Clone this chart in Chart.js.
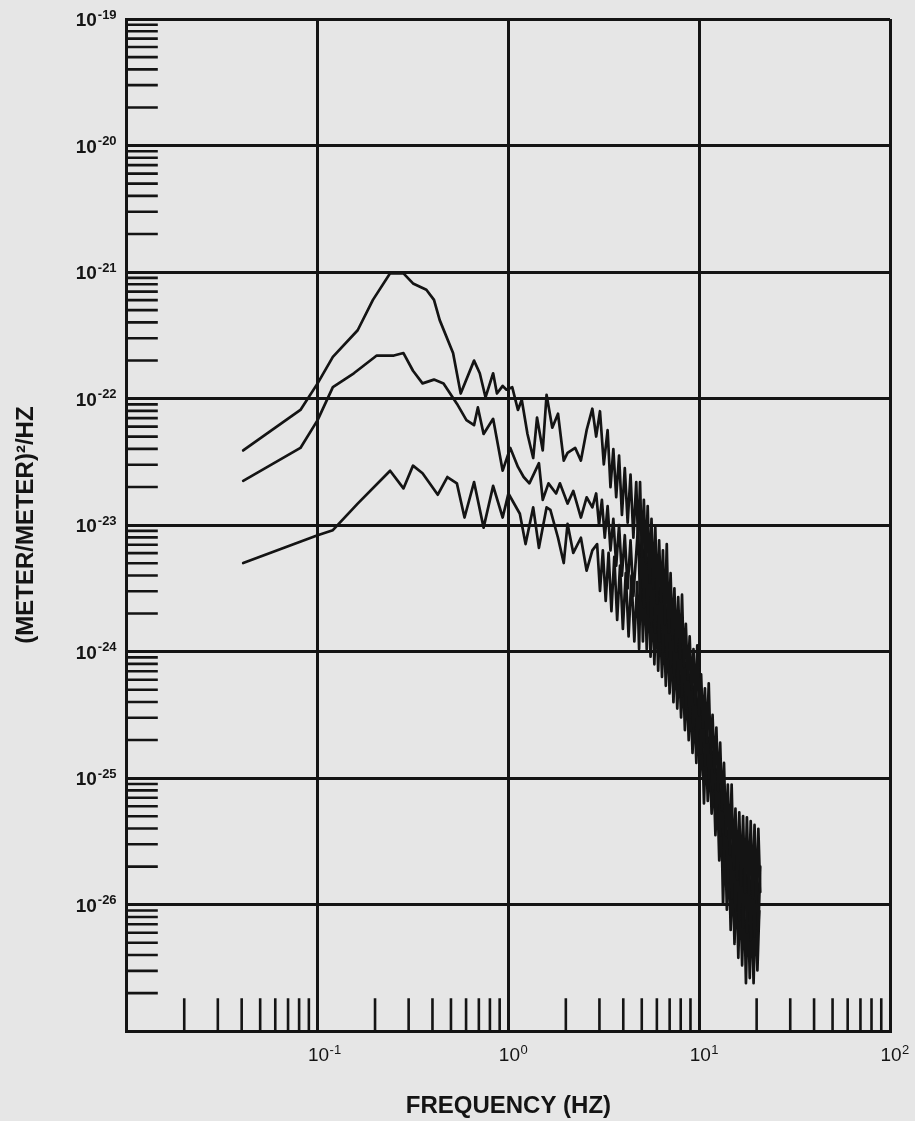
<!DOCTYPE html>
<html>
<head>
<meta charset="utf-8">
<title>Strain noise spectrum</title>
<script src="https://cdn.jsdelivr.net/npm/chart.js@4.4.0/dist/chart.umd.min.js"></script>
<style>
  html, body { margin: 0; padding: 0; background: #e6e6e6; }
  #wrap { width: 915px; height: 1121px; }
</style>
</head>
<body>
<div id="wrap"><canvas id="chart"></canvas></div>
<script>
// values, stored as log10 (decades) of frequency in Hz
// and of strain PSD in (m/m)^2/Hz
const logFreqA = [-1.39,-1.09,-1.00,-0.92,-0.79,-0.71,-0.62,-0.55,-0.50,-0.43,-0.39,-0.36,-0.29,-0.25,-0.18,-0.15,-0.12,-0.08,-0.06,-0.03,-0.01,0.02,0.05,0.07,0.10,0.13,0.15,0.18,0.20,0.23,0.26,0.29,0.31,0.35,0.38,0.41,0.44,
  0.46,0.48,0.50,0.52,0.535,0.55,0.565,0.58,0.595,0.61,0.625,0.64,0.655,0.67,0.68,
  0.69,0.70,0.71,0.72,0.73,0.74,0.75,0.76,0.77,0.78,0.79,0.80,0.81,0.82,0.83,0.84,0.85,0.86,0.87,0.88,0.89,0.90,0.91,0.92,0.93,0.94,0.95,0.96,0.97,0.98,0.99,
  1.00,1.01,1.02,1.03,1.04,1.05,1.06,1.07,1.08,1.09,1.10,1.11,1.12,1.13,1.14,1.15,1.16,1.17,1.18,1.19,1.20,1.21,1.22,1.23,1.24,1.25,1.26,1.27,1.28,1.29,1.30,1.31,1.32];
const logPsdA = [-22.41,-22.09,-21.88,-21.67,-21.46,-21.22,-21.01,-21.01,-21.09,-21.14,-21.22,-21.38,-21.64,-21.96,-21.70,-21.80,-21.99,-21.80,-21.96,-21.90,-21.93,-21.91,-22.09,-22.01,-22.28,-22.47,-22.15,-22.41,-21.97,-22.23,-22.12,-22.49,-22.43,-22.39,-22.49,-22.25,-22.08,
  -22.30,-22.10,-22.52,-22.25,-22.70,-22.40,-22.78,-22.45,-22.92,-22.55,-22.98,-22.60,-23.10,-22.66,-23.15,
  -22.66,-23.25,-22.80,-23.30,-22.85,-23.45,-22.95,-23.50,-23.02,-23.62,-23.12,-23.60,-23.20,-23.78,-23.15,-23.85,-23.38,-23.90,-23.50,-24.00,-23.57,-24.05,-23.55,-24.12,-23.78,-24.22,-23.88,-24.30,-23.98,-24.42,-23.95,
  -24.50,-24.18,-24.60,-24.29,-24.72,-24.25,-24.80,-24.50,-24.95,-24.60,-25.10,-24.72,-25.25,-24.88,-25.45,-25.05,-25.60,-25.05,-25.72,-25.24,-25.80,-25.27,-25.85,-25.30,-25.90,-25.31,-25.92,-25.34,-25.95,-25.37,-25.98,-25.40,-25.90];

const logFreqB = [-1.39,-1.09,-1.00,-0.92,-0.81,-0.69,-0.60,-0.55,-0.50,-0.45,-0.39,-0.34,-0.27,-0.22,-0.18,-0.16,-0.13,-0.08,-0.03,0.01,0.05,0.08,0.11,0.16,0.18,0.21,0.25,0.27,0.31,0.34,0.38,0.41,0.44,
  0.46,0.475,0.49,0.505,0.52,0.535,0.55,0.565,0.58,0.595,0.61,0.625,0.64,0.655,0.68,
  0.69,0.70,0.71,0.72,0.73,0.74,0.75,0.76,0.77,0.78,0.79,0.80,0.81,0.82,0.83,0.84,0.85,0.86,0.87,0.88,0.89,0.90,0.91,0.92,0.93,0.94,0.95,0.96,0.97,0.98,0.99,
  1.00,1.01,1.02,1.03,1.04,1.05,1.06,1.07,1.08,1.09,1.10,1.11,1.12,1.13,1.14,1.15,1.16,1.17,1.18,1.19,1.20,1.21,1.22,1.23,1.24,1.25,1.26,1.27,1.28,1.29,1.30,1.31,1.32];
const logPsdB = [-22.65,-22.39,-22.17,-21.91,-21.80,-21.66,-21.66,-21.64,-21.78,-21.88,-21.85,-21.88,-22.04,-22.17,-22.21,-22.07,-22.28,-22.16,-22.57,-22.39,-22.54,-22.62,-22.67,-22.51,-22.80,-22.67,-22.75,-22.67,-22.83,-22.73,-22.94,-22.78,-22.86,
  -22.75,-23.00,-22.80,-23.10,-22.85,-23.20,-22.95,-23.32,-23.00,-23.40,-23.08,-23.50,-23.12,-23.56,-23.00,
  -23.60,-22.95,-23.65,-23.05,-23.70,-23.10,-23.80,-23.20,-23.85,-23.28,-23.92,-23.35,-24.00,-23.45,-24.05,-23.52,-24.12,-23.60,-24.20,-23.70,-24.25,-23.78,-24.35,-23.88,-24.45,-23.98,-24.52,-24.08,-24.62,-24.18,-24.70,
  -24.28,-24.80,-24.38,-24.90,-24.48,-25.00,-24.60,-25.10,-24.70,-25.28,-24.85,-25.45,-25.00,-25.65,-25.18,-25.82,-25.30,-25.95,-25.40,-26.05,-25.45,-26.12,-25.52,-26.18,-25.55,-26.22,-25.60,-26.28,-25.62,-26.25,-25.65,-26.20,-25.70];

const logFreqC = [-1.39,-1.00,-0.92,-0.79,-0.62,-0.55,-0.50,-0.45,-0.37,-0.32,-0.27,-0.23,-0.18,-0.13,-0.08,-0.03,0.00,0.06,0.09,0.13,0.16,0.20,0.22,0.26,0.29,0.31,0.34,0.38,0.41,0.44,
  0.465,0.48,0.495,0.51,0.525,0.54,0.555,0.57,0.585,0.60,0.615,0.63,0.645,0.66,0.675,0.685,
  0.695,0.705,0.715,0.725,0.735,0.745,0.755,0.765,0.775,0.785,0.795,0.805,0.815,0.825,0.835,0.845,0.855,0.865,0.875,0.885,0.895,0.905,0.915,0.925,0.935,0.945,0.955,0.965,0.975,0.985,0.995,
  1.005,1.015,1.025,1.035,1.045,1.055,1.065,1.075,1.085,1.095,1.105,1.115,1.125,1.135,1.145,1.155,1.165,1.175,1.185,1.195,1.205,1.215,1.225,1.235,1.245,1.255,1.265,1.275,1.285,1.295,1.305,1.315];
const logPsdC = [-23.30,-23.08,-23.04,-22.83,-22.57,-22.71,-22.53,-22.59,-22.76,-22.62,-22.67,-22.94,-22.66,-23.02,-22.69,-22.94,-22.75,-22.91,-23.15,-22.86,-23.18,-22.86,-22.88,-23.10,-23.30,-22.99,-23.22,-23.10,-23.36,-23.20,
  -23.15,-23.52,-23.20,-23.60,-23.22,-23.68,-23.25,-23.75,-23.32,-23.82,-23.38,-23.88,-23.40,-23.92,-23.45,-23.98,
  -23.30,-23.92,-23.40,-23.98,-23.45,-24.04,-23.55,-24.10,-23.62,-24.15,-23.70,-24.20,-23.78,-24.27,-23.85,-24.33,-23.92,-24.40,-24.00,-24.45,-24.08,-24.52,-24.15,-24.62,-24.25,-24.70,-24.35,-24.80,-24.45,-24.88,-24.52,
  -24.98,-24.62,-25.20,-24.72,-25.18,-24.82,-25.28,-24.95,-25.45,-25.10,-25.65,-25.25,-26.00,-25.42,-26.04,-25.58,-26.20,-25.70,-26.31,-25.78,-26.42,-25.85,-26.48,-25.90,-26.62,-25.95,-26.58,-25.98,-26.62,-26.00,-26.52,-26.05];

// axes: decades carrying grid lines, decades carrying labels, minor marks
const xDecadeExp = [-2, -1, 0, 1, 2];
const yDecadeExp = [-27, -26, -25, -24, -23, -22, -21, -20, -19];
const xLabelExp = [-1, 0, 1, 2];
const yLabelExp = [-19, -20, -21, -22, -23, -24, -25, -26];
const minorSteps = [2, 3, 4, 5, 6, 7, 8, 9];

const INK = '#141414';
const FONT = '"Liberation Sans", Arial, Helvetica, sans-serif';

function toPoints(lf, lp) {
  return lf.map((f, i) => ({ x: Math.pow(10, f), y: Math.pow(10, lp[i]) }));
}

function curve(lf, lp) {
  return {
    data: toPoints(lf, lp),
    borderColor: INK,
    borderWidth: 2.7,
    borderJoinStyle: 'round',
    borderCapStyle: 'round',
    pointRadius: 0,
    tension: 0,
    fill: false
  };
}

// short tick marks inside the frame + the 10^n labels
const paperTicks = {
  id: 'paperTicks',
  beforeDatasetsDraw(chart) {
    const { ctx, chartArea: a, scales: { x, y } } = chart;
    ctx.save();
    ctx.strokeStyle = INK;
    ctx.lineWidth = 2.6;
    ctx.beginPath();
    yDecadeExp.slice(0, -1).forEach(e => {
      minorSteps.forEach(k => {
        const py = y.getPixelForValue(k * Math.pow(10, e));
        ctx.moveTo(a.left, py);
        ctx.lineTo(a.left + 31, py);
      });
    });
    xDecadeExp.slice(0, -1).forEach(e => {
      minorSteps.forEach(k => {
        const px = x.getPixelForValue(k * Math.pow(10, e));
        ctx.moveTo(px, a.bottom);
        ctx.lineTo(px, a.bottom - 33);
      });
    });
    ctx.stroke();
    ctx.restore();
  },
  afterDraw(chart) {
    const { ctx, chartArea: a, scales: { x, y } } = chart;
    ctx.save();
    ctx.fillStyle = INK;
    ctx.textBaseline = 'middle';
    yLabelExp.forEach(e => {
      const py = y.getPixelForValue(Math.pow(10, e));
      ctx.font = 'bold 19px ' + FONT;
      ctx.textAlign = 'right';
      ctx.fillText('10', a.left - 30, py + 2);
      ctx.font = 'bold 13px ' + FONT;
      ctx.textAlign = 'left';
      ctx.fillText(String(e), a.left - 29, py - 4);
    });
    xLabelExp.forEach(e => {
      const px = x.getPixelForValue(Math.pow(10, e));
      ctx.font = '19px ' + FONT;
      ctx.textAlign = 'center';
      ctx.fillText('10', px + 1, a.bottom + 25);
      ctx.font = '13px ' + FONT;
      ctx.textAlign = 'left';
      ctx.fillText(String(e), px + 12, a.bottom + 19);
    });
    ctx.restore();
  }
};

const myChart = new Chart(document.getElementById('chart'), {
  type: 'line',
  data: {
    datasets: [
      curve(logFreqA, logPsdA),
      curve(logFreqB, logPsdB),
      curve(logFreqC, logPsdC)
    ]
  },
  plugins: [paperTicks],
  options: {
    responsive: true,
    maintainAspectRatio: false,
    animation: false,
    layout: { padding: { top: 19, right: 25, left: 0, bottom: 0 } },
    plugins: {
      legend: { display: false },
      tooltip: { enabled: false }
    },
    scales: {
      x: {
        type: 'logarithmic',
        min: 0.01,
        max: 100,
        afterBuildTicks: scale => {
          scale.ticks = xDecadeExp.map(e => ({ value: Math.pow(10, e) }));
        },
        ticks: { display: false },
        grid: { color: INK, lineWidth: 3, drawTicks: false },
        border: { color: INK, width: 3 },
        title: {
          display: true,
          text: 'FREQUENCY (HZ)',
          color: INK,
          font: { family: FONT, size: 24, weight: 'bold' },
          padding: { top: 61, bottom: 0 }
        }
      },
      y: {
        type: 'logarithmic',
        min: 1e-27,
        max: 1e-19,
        afterBuildTicks: scale => {
          scale.ticks = yDecadeExp.map(e => ({ value: Math.pow(10, e) }));
        },
        ticks: { display: false },
        grid: { color: INK, lineWidth: 3, drawTicks: false },
        border: { color: INK, width: 3 },
        title: {
          display: true,
          text: '(METER/METER)²/HZ',
          color: INK,
          font: { family: FONT, size: 24, weight: 'bold' },
          padding: { top: 12, bottom: 86 }
        }
      }
    }
  }
});
</script>
</body>
</html>
